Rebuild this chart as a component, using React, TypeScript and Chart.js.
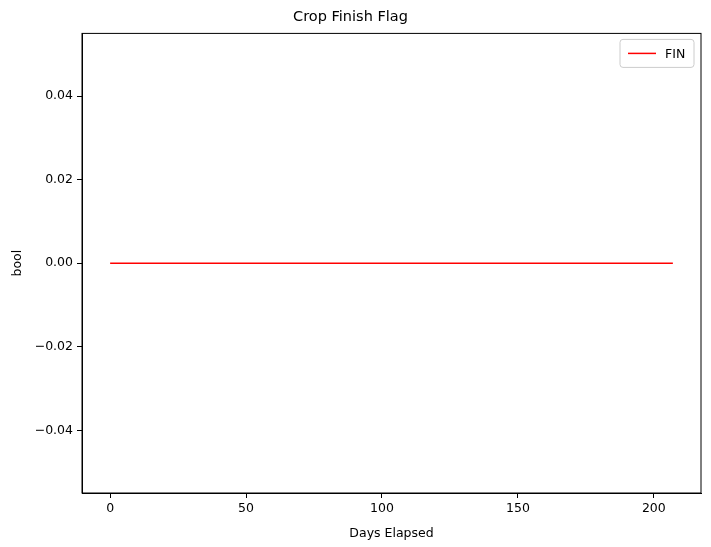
import { useEffect, useRef } from "react";
import { Chart, registerables } from "chart.js";

Chart.register(...registerables);

// days 0..207, finish flag stays 0 throughout
const days: number[] = Array.from({ length: 208 }, (_, i) => i);
const finFlag: number[] = days.map(() => 0);
const xTicks = [0, 50, 100, 150, 200];
const yTicks = [-0.04, -0.02, 0, 0.02, 0.04];

const FONT = "'DejaVu Sans', sans-serif";

const framePlugin = {
  id: "frame",
  afterDraw(chart: any) {
    const { ctx, chartArea: a } = chart;
    ctx.save();
    ctx.strokeStyle = "#000";
    ctx.lineWidth = 1;
    ctx.strokeRect(a.left, a.top, a.right - a.left, a.bottom - a.top);
    // legend box
    const w = 74, h = 28;
    const x = a.right - w - 7, y = a.top + 6;
    ctx.fillStyle = "rgba(255,255,255,0.8)";
    ctx.strokeStyle = "#ccc";
    ctx.beginPath();
    ctx.roundRect(x, y, w, h, 3);
    ctx.fill();
    ctx.stroke();
    ctx.strokeStyle = "red";
    ctx.lineWidth = 1.5;
    ctx.beginPath();
    ctx.moveTo(x + 8, y + h / 2);
    ctx.lineTo(x + 36, y + h / 2);
    ctx.stroke();
    ctx.fillStyle = "#000";
    ctx.font = `12.5px ${FONT}`;
    ctx.textBaseline = "middle";
    ctx.fillText("FIN", x + 45, y + h / 2 + 1);
    ctx.restore();
  },
};

export default function App() {
  const ref = useRef<any>(null);

  useEffect(() => {
    if (!ref.current) return;
    const chart = new Chart(ref.current.getContext("2d"), {
      type: "line",
      data: {
        datasets: [
          {
            label: "FIN",
            data: days.map((d, i) => ({ x: d, y: finFlag[i] })),
            borderColor: "red",
            borderWidth: 1.5,
            pointRadius: 0,
          },
        ],
      },
      options: {
        responsive: false,
        animation: false,
        layout: { padding: { right: 10 } },
        plugins: {
          legend: { display: false },
          tooltip: { enabled: false },
          title: {
            display: true,
            text: "Crop Finish Flag",
            color: "#000",
            font: { family: FONT, size: 14.5, weight: "normal" },
            padding: { top: 9, bottom: 7 },
          },
        },
        scales: {
          x: {
            type: "linear",
            min: -10.35,
            max: 217.35,
            afterBuildTicks: (s: any) => {
              s.ticks = xTicks.map((v) => ({ value: v }));
            },
            afterFit: (s: any) => {
              s.height = 54;
            },
            grid: { drawOnChartArea: false, drawTicks: true, tickLength: 5, color: "#000" },
            border: { display: true, color: "#000" },
            ticks: { color: "#000", font: { family: FONT, size: 12.5 }, padding: 3 },
            title: {
              display: true,
              text: "Days Elapsed",
              color: "#000",
              font: { family: FONT, size: 12.5 },
              padding: { top: 0, bottom: 6 },
            },
          },
          y: {
            min: -0.055,
            max: 0.055,
            afterBuildTicks: (s: any) => {
              s.ticks = yTicks.map((v) => ({ value: v }));
            },
            afterFit: (s: any) => {
              s.width = 82;
            },
            grid: { drawOnChartArea: false, drawTicks: true, tickLength: 5, color: "#000" },
            border: { display: true, color: "#000" },
            ticks: {
              color: "#000",
              font: { family: FONT, size: 12.5 },
              padding: 4,
              callback: (v: any) => Number(v).toFixed(2).replace("-", "−"),
            },
            title: {
              display: true,
              text: "bool",
              color: "#000",
              font: { family: FONT, size: 12.5 },
              padding: { top: 10, bottom: 0 },
            },
          },
        },
      },
      plugins: [framePlugin],
    });
    return () => chart.destroy();
  }, []);

  return (
    <div style={{ position: "fixed", left: 0, top: 0, background: "#fff" }}>
      <canvas ref={ref} width={711} height={547} />
    </div>
  );
}
